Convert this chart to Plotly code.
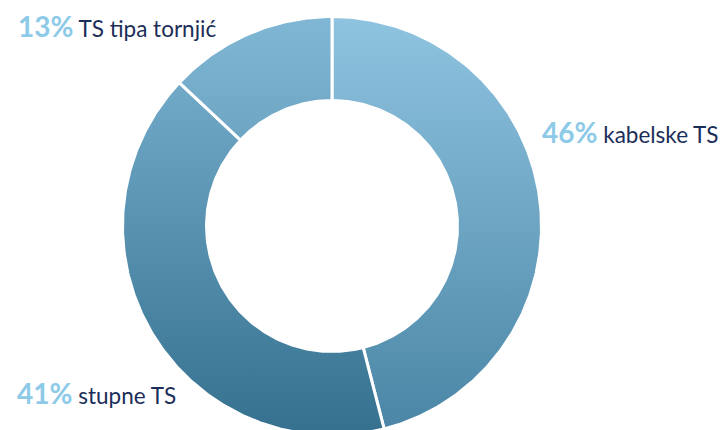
import numpy as np
import plotly.graph_objects as go

# Dilim verileri (saat yonunde, tepeden baslayarak)
labels = ["kabelske TS", "stupne TS", "TS tipa tornjić"]
values = [46, 41, 13]
pct_text = ["46%", "41%", "13%"]

# Her dilim icin dikey gradyan (alt, ust) - gorseldeki capraz gecisi taklit eder
grad_bottom = ["#4A85A5", "#35708F", "#3F7A9A"]
grad_top = ["#8FC4E0", "#7CB4D2", "#80B7D4"]

# Etiket konumlari (paper koordinatlari)
label_x = [0.733, 0.01, 0.011]
label_y = [0.712, 0.105, 0.958]

R_OUT = 209.5
R_IN = 125.5

fig = go.Figure()

cum = np.concatenate([[0], np.cumsum(values)]) / sum(values) * 2 * np.pi
for i, name in enumerate(labels):
    a0, a1 = cum[i], cum[i + 1]
    n = max(int((a1 - a0) * 80), 10)
    t = np.linspace(a0, a1, n)
    xs = np.concatenate([R_OUT * np.sin(t), R_IN * np.sin(t[::-1]), [R_OUT * np.sin(a0)]])
    ys = np.concatenate([R_OUT * np.cos(t), R_IN * np.cos(t[::-1]), [R_OUT * np.cos(a0)]])
    fig.add_trace(go.Scatter(
        x=xs, y=ys,
        mode="lines",
        fill="toself",
        fillgradient=dict(
            type="vertical",
            colorscale=[[0, grad_bottom[i]], [1, grad_top[i]]],
            start=-R_OUT, stop=R_OUT,
        ),
        line=dict(color="white", width=3),
        name=name,
        hoverinfo="name",
    ))

for i, name in enumerate(labels):
    fig.add_annotation(
        x=label_x[i], y=label_y[i], xref="paper", yref="paper",
        xanchor="left", yanchor="middle", showarrow=False,
        text=(f"<b><span style='color:#8DCAE8;font-size:28px'>{pct_text[i]}</span></b>"
              f"<span style='font-size:22.5px'> {name}</span>"),
        font=dict(family="Lato, sans-serif", color="#1B2D59", size=22.5),
    )

fig.update_layout(
    width=726, height=430,
    margin=dict(l=0, r=0, t=0, b=0),
    paper_bgcolor="white",
    plot_bgcolor="white",
    showlegend=False,
    xaxis=dict(range=[-324, 402], visible=False, fixedrange=True),
    yaxis=dict(range=[-212, 218], visible=False, fixedrange=True),
)

fig.write_html("out.html")
